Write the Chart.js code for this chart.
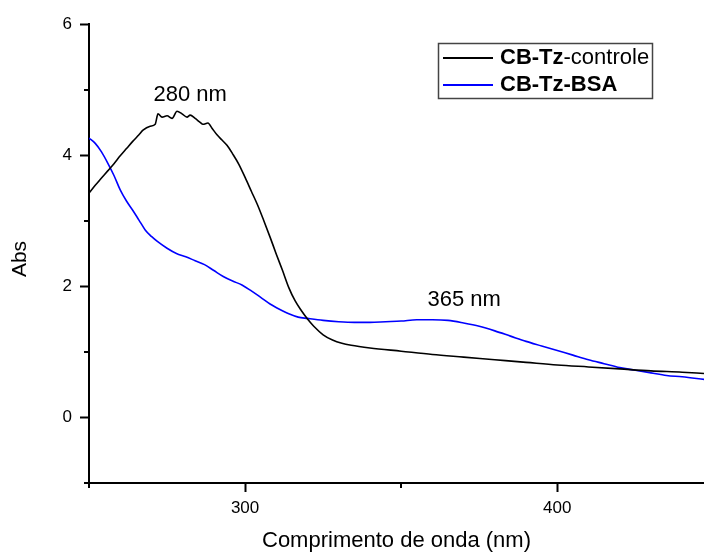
<!DOCTYPE html>
<html>
<head>
<meta charset="utf-8">
<script src="https://cdn.jsdelivr.net/npm/chart.js@4"></script>
<style>
  html, body { margin: 0; padding: 0; background: #fff; overflow: hidden; }
  canvas { display: block; }
</style>
</head>
<body>
<canvas id="myChart" width="704" height="554"></canvas>
<script>
"use strict";

// CB-Tz-controle (black)
const controleX = [250, 252, 254, 256, 258, 260, 262, 264, 266, 267.3, 269.6, 271.2, 272.1, 273.4, 275, 276.6,
    278.2, 279.8, 281.4, 282.4, 284, 285.6, 286.5, 288.1, 289.4, 291, 292.6, 294.2, 296, 298, 300, 302, 304,
    306, 308, 310, 312, 314, 316, 318, 320, 322, 325, 328, 331, 334, 340, 350, 360, 370, 380, 390, 400, 410,
    420, 430, 440, 447];
const controleY = [3.42, 3.54, 3.65, 3.76, 3.87, 3.99, 4.10, 4.21, 4.31, 4.38, 4.44, 4.47, 4.63, 4.58, 4.60, 4.56,
    4.67, 4.63, 4.58, 4.61, 4.56, 4.50, 4.47, 4.49, 4.41, 4.31, 4.23, 4.15, 4.02, 3.86, 3.66, 3.45, 3.24,
    3.00, 2.75, 2.49, 2.24, 1.98, 1.78, 1.63, 1.50, 1.39, 1.26, 1.18, 1.13, 1.10, 1.06, 1.01, 0.96, 0.92,
    0.88, 0.84, 0.80, 0.77, 0.74, 0.71, 0.69, 0.67];

// CB-Tz-BSA (blue)
const bsaX = [250, 252, 254, 256, 258, 260, 262, 264, 266, 268, 270, 272, 275, 278, 281, 284, 287, 290, 293, 296,
    299, 302, 305, 308, 311, 314, 317, 320, 325, 330, 335, 340, 345, 350, 355, 360, 365, 370, 375, 380, 385,
    390, 395, 400, 405, 410, 415, 420, 425, 430, 435, 440, 447];
const bsaY = [4.26, 4.18, 4.05, 3.88, 3.69, 3.47, 3.30, 3.16, 3.01, 2.86, 2.76, 2.68, 2.58, 2.50, 2.45, 2.39,
    2.33, 2.24, 2.15, 2.08, 2.02, 1.93, 1.83, 1.73, 1.65, 1.58, 1.53, 1.51, 1.48, 1.46, 1.45, 1.45, 1.46,
    1.47, 1.49, 1.49, 1.48, 1.44, 1.39, 1.32, 1.24, 1.16, 1.09, 1.02, 0.95, 0.88, 0.82, 0.76, 0.72, 0.68,
    0.64, 0.62, 0.58];

const xMajor = [300, 400];
const xMinor = [250, 350];
const yMajor = [0, 2, 4, 6];
const yMinor = [-1, 1, 3, 5];
const peakLabels = ['280 nm', '365 nm'];

const FONT = "'Liberation Sans', Arial, sans-serif";

const toPoints = (xs, ys) => xs.map((x, i) => ({ x: x, y: ys[i] }));

const minorTicksPlugin = {
    id: 'minorTicks',
    afterDraw(chart) {
        const ctx = chart.ctx;
        const xs = chart.scales.x;
        const ys = chart.scales.y;
        const area = chart.chartArea;
        ctx.save();
        ctx.strokeStyle = '#000';
        ctx.lineWidth = 2;
        ctx.beginPath();
        xMinor.forEach(v => {
            const px = Math.round(xs.getPixelForValue(v));
            ctx.moveTo(px, area.bottom);
            ctx.lineTo(px, area.bottom + 5);
        });
        yMinor.forEach(v => {
            const py = Math.round(ys.getPixelForValue(v));
            ctx.moveTo(area.left, py);
            ctx.lineTo(area.left - 5, py);
        });
        ctx.stroke();

        // y axis title
        ctx.translate(20, 259);
        ctx.rotate(-Math.PI / 2);
        ctx.font = `21px ${FONT}`;
        ctx.fillStyle = '#000';
        ctx.textAlign = 'center';
        ctx.textBaseline = 'middle';
        ctx.fillText('Abs', 0, 0);
        ctx.restore();
    }
};

const peakLabelPlugin = {
    id: 'peakLabels',
    afterDraw(chart) {
        const ctx = chart.ctx;
        const xs = chart.scales.x;
        const ys = chart.scales.y;
        const spots = [[282.4, 4.92], [370.2, 1.79]];
        ctx.save();
        ctx.font = `22px ${FONT}`;
        ctx.fillStyle = '#000';
        ctx.textAlign = 'center';
        ctx.textBaseline = 'middle';
        peakLabels.forEach((t, i) => {
            ctx.fillText(t, xs.getPixelForValue(spots[i][0]), ys.getPixelForValue(spots[i][1]));
        });
        ctx.restore();
    }
};

const legendBoxPlugin = {
    id: 'legendBox',
    afterDraw(chart) {
        const ctx = chart.ctx;
        const left = 438, top = 43, w = 214, h = 55;
        ctx.save();
        ctx.strokeStyle = '#444';
        ctx.lineWidth = 1.5;
        ctx.strokeRect(left + 0.5, top + 0.5, w, h);

        const rows = [58, 85];
        const colors = ['#000000', '#0000ff'];
        rows.forEach((y, i) => {
            ctx.strokeStyle = colors[i];
            ctx.lineWidth = 2;
            ctx.beginPath();
            ctx.moveTo(443, y);
            ctx.lineTo(493, y);
            ctx.stroke();
        });

        ctx.fillStyle = '#000';
        ctx.textBaseline = 'middle';
        ctx.textAlign = 'left';
        let x = 500;
        ctx.font = `bold 22px ${FONT}`;
        ctx.fillText('CB-Tz', x, rows[0]);
        x += ctx.measureText('CB-Tz').width;
        ctx.font = `22px ${FONT}`;
        ctx.fillText('-controle', x, rows[0]);
        ctx.font = `bold 22px ${FONT}`;
        ctx.fillText('CB-Tz-BSA', 500, rows[1]);
        ctx.restore();
    }
};

const charts = new Chart(document.getElementById('myChart'), {
    type: 'scatter',
    data: {
        datasets: [{
            label: 'CB-Tz-controle',
            data: toPoints(controleX, controleY),
            showLine: true,
            borderColor: '#000000',
            borderWidth: 1.6,
            pointRadius: 0,
            cubicInterpolationMode: 'monotone'
        }, {
            label: 'CB-Tz-BSA',
            data: toPoints(bsaX, bsaY),
            showLine: true,
            borderColor: '#0000ff',
            borderWidth: 1.6,
            pointRadius: 0,
            cubicInterpolationMode: 'monotone'
        }]
    },
    options: {
        responsive: false,
        animation: false,
        layout: {
            padding: { top: 24, right: 0, left: 0, bottom: 0 }
        },
        plugins: {
            legend: { display: false },
            tooltip: { enabled: false }
        },
        scales: {
            x: {
                type: 'linear',
                min: 250,
                max: 447,
                afterFit(scale) { scale.height = 71; },
                afterBuildTicks(scale) { scale.ticks = xMajor.map(v => ({ value: v })); },
                grid: {
                    display: true,
                    drawOnChartArea: false,
                    drawTicks: true,
                    tickLength: 9,
                    tickWidth: 2,
                    tickColor: '#000'
                },
                border: { display: true, color: '#000', width: 2 },
                ticks: {
                    color: '#000',
                    font: { family: FONT, size: 17 },
                    padding: 6,
                    maxRotation: 0
                },
                title: {
                    display: true,
                    text: 'Comprimento de onda (nm)',
                    color: '#000',
                    font: { family: FONT, size: 22 },
                    padding: { top: 0, bottom: 0 }
                }
            },
            y: {
                type: 'linear',
                min: -1,
                max: 6,
                afterFit(scale) { scale.width = 89; },
                afterBuildTicks(scale) { scale.ticks = yMajor.map(v => ({ value: v })); },
                grid: {
                    display: true,
                    drawOnChartArea: false,
                    drawTicks: true,
                    tickLength: 9,
                    tickWidth: 2,
                    tickColor: '#000'
                },
                border: { display: true, color: '#000', width: 2 },
                ticks: {
                    color: '#000',
                    font: { family: FONT, size: 17 },
                    padding: 8
                }
            }
        }
    },
    plugins: [minorTicksPlugin, peakLabelPlugin, legendBoxPlugin]
});
</script>
</body>
</html>
